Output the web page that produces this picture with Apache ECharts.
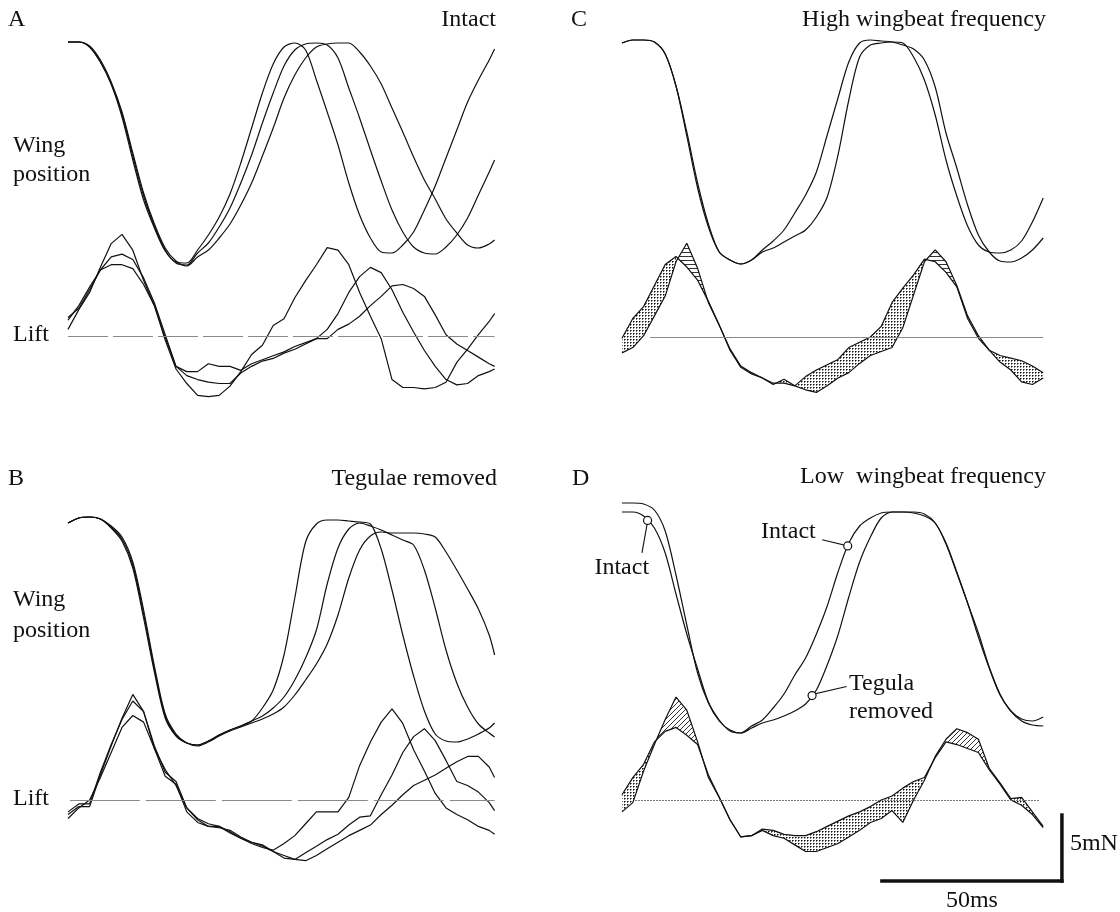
<!DOCTYPE html>
<html><head><meta charset="utf-8">
<script src="https://cdn.jsdelivr.net/npm/echarts@6/dist/echarts.min.js"></script>
<style>html,body{margin:0;padding:0;background:#fff}#c{width:1120px;height:912px}</style>
</head><body><div id="c"></div>
<script>
// ---- time bases (ms) ----
const TIME_AB = [0,3,6,9,12,15,18,21,24,27,30,33,36,39,42,45,48,51,54,57,60,63,66,69,72,75,78,81,84,87,90,93,96,99,102,105,108,111,114,117,118.5];
const TIME_CD = [0,3,6,9,12,15,18,21,24,27,30,33,36,39,42,45,48,51,54,57,60,63,66,69,72,75,78,81,84,87,90,93,96,99,102,105,108,111,114,117];

// ---- Panel A: intact (wing position in deg, lift in mN) ----
const A_WING_1 = [55.5,55.5,53,45.5,34.5,18,-3.5,-23.5,-37.5,-49,-54.5,-55,-48.5,-41,-32,-20.5,-5,12.5,30,44.5,53,55,51.5,36.5,20.5,4,-15,-31,-42.5,-49.5,-50,-46,-39.5,-28.5,-16.5,-2.5,11.5,25.5,36.5,46.5,52];
const A_WING_2 = [55.5,55.5,53,45.5,34.5,19.5,-1.5,-21.5,-36.5,-48.5,-55,-56,-50,-45,-37,-27.5,-15,-1,15,30,43.5,51.5,54.5,55,54,47.5,32.5,17.5,1.5,-14,-28.5,-39.5,-47,-50,-50.5,-47,-41,-32.5,-21,-9.5,-3.5];
const A_WING_3 = [55.5,55.5,53.5,46.5,35.5,20.5,0,-20,-35.5,-47.5,-54,-56.5,-52,-48.5,-42.5,-35.5,-26,-15,-1.5,12.5,27.5,39,47.5,53,54.5,55,55,50.5,43.5,34.5,22.5,10.5,-2,-13.5,-23,-33,-40,-46,-47.5,-45.5,-43.5];
const A_LIFT_1 = [0.5,2.0,3.3,5.2,7.0,7.7,6.5,4.2,2.3,-0.3,-2.5,-3.6,-4.5,-4.6,-4.5,-3.8,-2.7,-1.4,-0.7,0.8,1.3,2.9,4.2,5.4,6.7,6.5,5.4,3.3,1.5,-0.2,-3.3,-3.9,-3.9,-4.0,-3.9,-3.5,-2.0,-1.0,0.1,1.1,1.7];
const A_LIFT_2 = [1.4,2.1,3.5,5.0,6.0,6.2,5.8,4.4,2.5,0.1,-2.3,-3.0,-3.3,-3.5,-3.6,-3.6,-2.8,-2.3,-1.9,-1.7,-1.3,-1.0,-0.6,-0.2,0.5,1.7,3.3,4.5,5.2,4.8,3.5,1.8,0.3,-1.1,-2.3,-3.3,-3.7,-3.6,-3.0,-2.7,-2.5];
const A_LIFT_3 = [1.2,2.3,3.7,5.0,5.4,5.4,5.1,3.9,2.3,-0.1,-2.3,-2.7,-2.7,-2.1,-2.3,-2.3,-2.6,-2.1,-1.8,-1.5,-1.2,-0.8,-0.5,-0.2,-0.2,0.5,0.9,1.5,2.3,3.0,3.8,3.9,3.6,3.0,1.6,0.1,-0.6,-1.1,-1.6,-2.1,-2.3];

// ---- Panel B: tegulae removed ----
const B_WING_1 = [54,56.5,57,56,51.5,45,31.5,6.5,-20.5,-43.5,-52.5,-56,-57,-55,-52,-49.5,-47.5,-45,-38.5,-29.5,-12,16.5,44.5,53.5,55.5,55.5,55,54.5,53.5,41,20.5,-2,-22.5,-40,-51.5,-55,-55.5,-54,-51.5,-48.5,-46];
const B_WING_2 = [54,56.5,57,56,52,46,33,8.5,-19,-42.5,-52,-56,-57,-55,-52,-49.5,-47.5,-45,-42.5,-38.5,-33,-24.5,-13.5,0.5,23.5,41.5,51,54,52.5,50.5,48,45.5,43,30.5,11.5,-9.5,-26,-38,-46.5,-51,-53];
const B_WING_3 = [54,56.5,57,56,52.5,47,34.5,10.5,-17.5,-41.5,-51.5,-56,-57.5,-55.5,-52.5,-50,-48,-46,-44,-41.5,-38,-32,-24.5,-16.5,-6.5,8,26.5,40.5,47.5,49.5,49,49,49,48.5,47,39.5,30.5,21,11,-2,-12];
const B_LIFT_1 = [-1.1,-0.5,-0.5,1.9,4.1,6.2,8.0,6.7,3.9,1.8,1.2,-0.9,-1.7,-2.0,-2.0,-2.4,-2.9,-3.3,-3.6,-3.8,-3.3,-2.7,-1.8,-0.9,-0.9,-0.9,0.2,2.6,4.4,5.9,6.9,5.8,3.8,2.2,0.5,-0.6,-1.1,-1.5,-2.0,-2.3,-2.6];
const B_LIFT_2 = [-0.9,-0.3,-0.3,2.1,4.2,6.1,7.5,6.7,4.1,2.1,1.4,-0.6,-1.4,-1.8,-2.0,-2.5,-2.9,-3.2,-3.4,-3.9,-4.4,-4.5,-4.0,-3.5,-3.0,-2.6,-1.9,-1.3,-1.2,0.4,1.9,3.6,4.8,5.4,4.5,3.0,1.4,1.1,0.6,-0.2,-0.8];
const B_LIFT_3 = [-1.4,-0.6,0,1.7,3.6,5.5,6.4,5.9,3.9,2.3,1.1,-0.6,-1.5,-2.0,-2.1,-2.3,-2.8,-3.2,-3.5,-3.9,-4.2,-4.5,-4.6,-4.2,-3.7,-3.2,-2.7,-2.3,-1.9,-1.1,-0.4,0.4,1.1,1.5,1.9,2.4,2.9,3.3,3.3,2.5,1.7];

// ---- Panel C: high wingbeat frequency (1 = intact, 2 = tegula removed) ----
const C_WING_1 = [54.5,56,56,55,49,33,8,-18,-37.5,-50,-54,-56,-54,-49,-44.5,-39,-30.5,-21.5,-10,8.5,27,45,54.5,56,55.5,55,53.5,51.5,46,32.5,9.5,-8,-26.5,-41.5,-50,-54.5,-55,-53,-49,-43];
const C_WING_2 = [54.5,56,56,55,49,33,10,-15.5,-36,-50,-54,-56,-54,-50,-48,-45,-42,-39,-32.5,-22.5,-1.5,26,47.5,53.5,54.5,55,54.5,47.5,36,18.5,-4,-22,-37,-46.5,-50,-50.5,-49,-44.5,-35,-23];
const C_LIFT_1 = [-0.1,1.4,2.3,3.9,5.5,6.1,5.3,4.3,2.7,0.9,-1.0,-2.3,-2.8,-3.1,-3.6,-3.2,-3.7,-3.0,-2.5,-2.1,-1.7,-0.8,-0.4,0,0.8,2.6,3.7,4.7,5.9,5.7,4.9,3.8,1.4,-0.1,-1.0,-1.9,-2.5,-3.4,-3.6,-3.1];
const C_LIFT_2 = [-1.2,-0.8,0.1,1.6,3.1,5.7,7.1,5.2,2.6,0.9,-0.9,-2.2,-2.7,-3.1,-3.5,-3.5,-3.7,-4.0,-4.2,-3.7,-3.1,-2.7,-2.0,-1.4,-1.1,-0.8,0.7,3.2,5.7,6.6,5.7,3.9,1.6,0.1,-1.0,-1.4,-1.6,-1.8,-2.2,-2.7];

// ---- Panel D: low wingbeat frequency (1 = intact, 2 = tegula removed) ----
const D_WING_1 = [53,53,51,45,32.5,12,-8,-25.5,-42,-51,-56.5,-57.5,-54,-51,-45,-38,-28.5,-20,-8,6,23,37.5,46,50,52.5,53,53,52.5,51,47.5,37,22.5,7.5,-7.5,-24.5,-38,-46.5,-50.5,-51.5,-49.5];
const D_WING_2 = [57.5,57.5,57,54,43.5,21.5,-3.5,-27.5,-42.5,-51.5,-56,-57.5,-55,-52.5,-51,-49,-46.5,-43,-36,-23.5,-8.5,10.5,28,40.5,50,53,53,53,52,47.5,37.5,23,7.5,-9.5,-25,-38.5,-46.5,-51.5,-53.5,-54];
const D_LIFT_1 = [0.4,1.7,2.7,4.4,5.2,5.5,4.9,4.2,1.9,0.2,-1.5,-2.8,-2.7,-2.2,-2.3,-2.6,-2.7,-2.7,-2.4,-2.0,-1.6,-1.2,-0.9,-0.5,0,0.3,0.9,1.4,1.7,3.2,4.4,4.2,3.9,3.6,2.3,1.2,0,-0.4,-1.1,-2.1];
const D_LIFT_2 = [-0.9,-0.2,2.2,4.2,6.1,7.8,6.8,4.4,1.7,0.2,-1.5,-2.8,-2.7,-2.3,-2.7,-2.9,-3.4,-3.9,-3.9,-3.6,-3.3,-2.8,-2.3,-1.7,-1.4,-0.8,-1.7,0,1.5,3.3,4.6,5.4,5.1,4.6,2.4,1.3,0.1,0.2,-0.9,-2.0];

// ---- shaded difference windows (ms) ----
const C_DOT = [[0,15],[24,84],[96,117]];
const C_HATCH = [[15,24],[84,96]];
const D_DOT = [[0,9],[21,84],[105,117]];
const D_HATCH = [[9,21],[84,105]];

// ---- annotation times (ms) in panel D ----
const ANN_INTACT_LEFT = 7.1, ANN_INTACT_TOP = 62.7, ANN_TEGULA = 52.8;
// ---- scale bar ----
const SCALE_T0 = 72.2, SCALE_V0 = -6.14, SCALE_MS = 50, SCALE_MN = 5;

// ---- labels ----
const TITLES = {A:'Intact', B:'Tegulae removed', C:'High wingbeat frequency', D:'Low  wingbeat frequency'};

// =====================================================
const FONT = '24px "Liberation Serif", "Times New Roman", serif';
const INK = '#111';

function pattern(kind){
  const c = document.createElement('canvas');
  const g = c.getContext('2d');
  if(kind==='dot'){
    c.width=3; c.height=3;
    g.fillStyle='#fff'; g.fillRect(0,0,3,3);
    g.fillStyle='#111'; g.fillRect(0,0,1,1);
    g.fillStyle='#777'; g.fillRect(1,0,1,1); g.fillRect(0,1,1,1);
  } else if(kind==='hline'){
    c.width=4; c.height=4;
    g.fillStyle='#fff'; g.fillRect(0,0,4,4);
    g.fillStyle='#333'; g.fillRect(0,0,4,1);
  } else {
    const s=5; c.width=s; c.height=s;
    g.fillStyle='#fff'; g.fillRect(0,0,s,s);
    g.strokeStyle='#333'; g.lineWidth=1;
    g.beginPath();
    g.moveTo(0,s); g.lineTo(s,0);
    g.moveTo(-1,1); g.lineTo(1,-1);
    g.moveTo(s-1,s+1); g.lineTo(s+1,s-1);
    g.stroke();
  }
  return {image:c, repeat:'repeat'};
}

function line(grid, time, vals, smooth, extra){
  return Object.assign({
    type:'line', xAxisIndex:grid, yAxisIndex:grid,
    data: time.map((t,i)=>[t, vals[i]]),
    showSymbol:false, symbol:'none', smooth: smooth, silent:true, animation:false, z:3,
    lineStyle:{color:INK, width:1.2}
  }, extra||{});
}
function baseline(t0, t1, color, type){
  return {silent:true, symbol:['none','none'], label:{show:false}, animation:false,
    lineStyle:{color:color, width:1, type:type},
    data:[[{coord:[t0,0]},{coord:[t1,0]}]]};
}
function fill(grid, time, a, b, ranges, pat){
  return {
    type:'custom', xAxisIndex:grid, yAxisIndex:grid, coordinateSystem:'cartesian2d',
    silent:true, animation:false, z:1, clip:false,
    data: ranges.map(r=>[r[0], 0, r[1]]),
    encode:{x:[0,2], y:1},
    renderItem:function(params, api){
      const t0 = api.value(0), t1 = api.value(2);
      const top=[], bot=[];
      for(let i=0;i<time.length;i++){
        if(time[i]>=t0-1e-9 && time[i]<=t1+1e-9){
          top.push(api.coord([time[i], a[i]]));
          bot.unshift(api.coord([time[i], b[i]]));
        }
      }
      return {type:'polygon', shape:{points: top.concat(bot)}, style:{fill:pat, stroke:null}};
    }
  };
}

const grids = [
  {left:68, top:33, width:432, height:240},
  {left:68, top:204, width:432, height:211.2},
  {left:68, top:511, width:432, height:240},
  {left:68, top:668, width:432, height:211.2},
  {left:622, top:32, width:432, height:240},
  {left:622, top:205, width:432, height:211.2},
  {left:622, top:498, width:432, height:240},
  {left:622, top:668, width:432, height:211.2}
];

const DOT = pattern('dot'), HL = pattern('hline'), DIAG = pattern('diag');

const series = [
  line(0, TIME_AB, A_WING_1, 0.3), line(0, TIME_AB, A_WING_2, 0.3), line(0, TIME_AB, A_WING_3, 0.3),
  line(1, TIME_AB, A_LIFT_1, false, {markLine: baseline(0, 118.5, '#8a8a8a', [40,5])}),
  line(1, TIME_AB, A_LIFT_2, false), line(1, TIME_AB, A_LIFT_3, false),
  line(2, TIME_AB, B_WING_1, 0.3), line(2, TIME_AB, B_WING_2, 0.3), line(2, TIME_AB, B_WING_3, 0.3),
  line(3, TIME_AB, B_LIFT_1, false, {markLine: baseline(0.5, 118.5, '#8a8a8a', [70,6])}),
  line(3, TIME_AB, B_LIFT_2, false), line(3, TIME_AB, B_LIFT_3, false),
  line(4, TIME_CD, C_WING_1, 0.3), line(4, TIME_CD, C_WING_2, 0.3),
  fill(5, TIME_CD, C_LIFT_1, C_LIFT_2, C_DOT, DOT),
  fill(5, TIME_CD, C_LIFT_1, C_LIFT_2, C_HATCH, HL),
  line(5, TIME_CD, C_LIFT_1, false, {markLine: baseline(7.8, 117, '#8a8a8a', 'solid')}),
  line(5, TIME_CD, C_LIFT_2, false),
  line(6, TIME_CD, D_WING_1, 0.3), line(6, TIME_CD, D_WING_2, 0.3),
  fill(7, TIME_CD, D_LIFT_1, D_LIFT_2, D_DOT, DOT),
  fill(7, TIME_CD, D_LIFT_1, D_LIFT_2, D_HATCH, DIAG),
  line(7, TIME_CD, D_LIFT_1, false, {markLine: baseline(3.6, 116, '#777', [2,1])}),
  line(7, TIME_CD, D_LIFT_2, false)
];

const chart = echarts.init(document.getElementById('c'), null, {renderer:'canvas'});
chart.setOption({
  backgroundColor:'#fff',
  animation:false,
  grid: grids,
  xAxis: grids.map((g,i)=>({type:'value', gridIndex:i, min:0, max:120, show:false})),
  yAxis: grids.map((g,i)=>(i%2===0
      ? {type:'value', gridIndex:i, min:-60, max:60, show:false}
      : {type:'value', gridIndex:i, min:-6, max:10, show:false})),
  series: series
});

function interp(time, vals, t){
  for(let i=0;i<time.length-1;i++){
    if(t>=time[i] && t<=time[i+1]){
      const f=(t-time[i])/(time[i+1]-time[i]);
      return vals[i]+f*(vals[i+1]-vals[i]);
    }
  }
  return vals[vals.length-1];
}
const P = (g, t, v) => chart.convertToPixel({gridIndex:g}, [t, v]);

function txt(s, x, baseY, align){
  return {type:'text', silent:true, z:20, style:{text:s, x:x, y:baseY-8, font:FONT, fill:INK, textAlign:align||'left', textVerticalAlign:'middle'}};
}

const gr = [
  txt('A', 8, 28), txt(TITLES.A, 496, 28, 'right'),
  txt('C', 571, 28), txt(TITLES.C, 1046, 28, 'right'),
  txt('B', 8, 487), txt(TITLES.B, 497, 487, 'right'),
  txt('D', 572, 487), txt(TITLES.D, 1046, 485, 'right'),
  txt('Wing', 13, 154), txt('position', 13, 183), txt('Lift', 13, 343),
  txt('Wing', 13, 608), txt('position', 13, 639), txt('Lift', 13, 807)
];

// annotations in D
const c1 = P(6, ANN_INTACT_LEFT, interp(TIME_CD, D_WING_1, ANN_INTACT_LEFT));
const c2 = P(6, ANN_INTACT_TOP, interp(TIME_CD, D_WING_1, ANN_INTACT_TOP));
const c3 = P(6, ANN_TEGULA, interp(TIME_CD, D_WING_2, ANN_TEGULA));
function lineEl(x1,y1,x2,y2,w){ return {type:'line', silent:true, z:18, shape:{x1,y1,x2,y2}, style:{stroke:INK, lineWidth:w||1.1, lineCap:'square'}}; }
function circ(c){ return {type:'circle', silent:true, z:19, shape:{cx:c[0], cy:c[1], r:4}, style:{fill:'#fff', stroke:INK, lineWidth:1.2}}; }
gr.push(
  lineEl(c1[0]-0.5, c1[1]+4, c1[0]-5.5, c1[1]+32), circ(c1), txt('Intact', c1[0]+1.5, c1[1]+55, 'right'),
  lineEl(c2[0]-4, c2[1]-1, c2[0]-25, c2[1]-6), circ(c2), txt('Intact', c2[0]-32, c2[1]-6, 'right'),
  lineEl(c3[0]+4, c3[1]-2, c3[0]+34, c3[1]-9), circ(c3),
  txt('Tegula', c3[0]+37, c3[1]-4), txt('removed', c3[0]+37, c3[1]+24)
);

// scale bar (through D lift axes)
const s0 = P(7, SCALE_T0, SCALE_V0);
const s1 = P(7, SCALE_T0+SCALE_MS, SCALE_V0);
const s2 = P(7, SCALE_T0+SCALE_MS, SCALE_V0+SCALE_MN);
gr.push(
  lineEl(s0[0], s1[1], s1[0], s1[1], 3.5),
  lineEl(s1[0], s1[1], s2[0], s2[1], 3.5),
  txt('5mN', s1[0]+8, (s1[1]+s2[1])/2+4, 'left'),
  txt('50ms', (s0[0]+s1[0])/2, s1[1]+28, 'center')
);

chart.setOption({graphic: gr});
</script>
</body></html>
